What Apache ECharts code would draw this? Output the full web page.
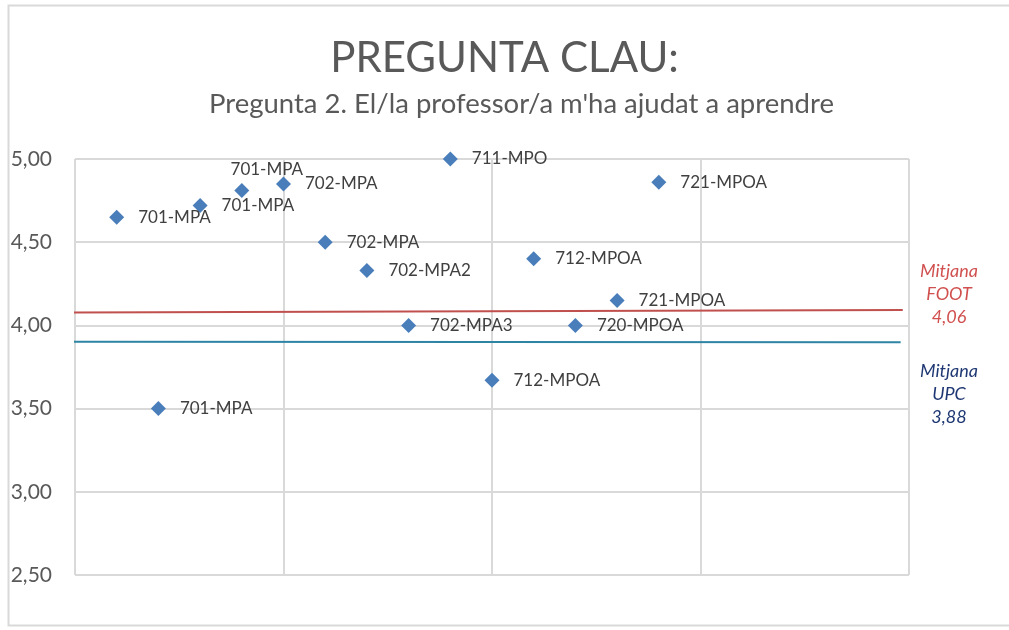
<!DOCTYPE html>
<html>
<head>
<meta charset="utf-8">
<script src="https://cdn.jsdelivr.net/npm/echarts@6/dist/echarts.min.js"></script>
<style>
  html, body { margin: 0; padding: 0; background: #fff; }
  #chart { width: 1009px; height: 630px; }
</style>
</head>
<body>
<div id="chart"></div>
<script>
  // groups (point labels), their x slot and score
  const groups = ['701-MPA', '701-MPA', '701-MPA', '701-MPA', '702-MPA', '702-MPA', '702-MPA2',
    '702-MPA3', '711-MPO', '712-MPOA', '712-MPOA', '720-MPOA', '721-MPOA', '721-MPOA'];
  const slots = [1, 2, 3, 4, 5, 6, 7, 8, 9, 10, 11, 12, 13, 14];
  const scores = [4.65, 3.50, 4.72, 4.81, 4.85, 4.50, 4.33, 4.00, 5.00, 3.67, 4.40, 4.00, 4.15, 4.86];

  // mean lines (drawn slightly tilted in the original)
  const footLine = [[-0.2, 4.077], [19.85, 4.093]];
  const upcLine = [[-0.17, 3.902], [19.8, 3.898]];
  const footMean = 4.06;
  const upcMean = 3.88;

  const yTicks = [2.5, 3.0, 3.5, 4.0, 4.5, 5.0];

  const fmt = v => v.toFixed(2).replace('.', ',');
  const font = 'Lato, "Open Sans", sans-serif';

  const points = slots.map((x, i) => {
    const item = { name: groups[i], value: [x, scores[i]] };
    if (i === 3) {
      // this label sits above the marker
      item.label = { position: 'top', offset: [25, 9] };
    }
    return item;
  });

  const chart = echarts.init(document.getElementById('chart'));
  chart.setOption({
    animation: false,
    backgroundColor: '#fff',
    title: [
      {
        text: 'PREGUNTA CLAU:',
        left: 'center', top: 32,
        textStyle: { fontFamily: font, fontSize: 42, fontWeight: 'normal', color: '#595959' }
      },
      {
        text: "Pregunta 2. El/la professor/a m'ha ajudat a aprendre",
        left: 204, top: 85,
        textStyle: { fontFamily: font, fontSize: 27.5, fontWeight: 'normal', color: '#595959' }
      }
    ],
    grid: { left: 75, right: 100, top: 159, bottom: 55 },
    xAxis: {
      type: 'value', min: 0, max: 20, interval: 5,
      axisLine: { show: false }, axisTick: { show: false }, axisLabel: { show: false },
      splitLine: { show: true, lineStyle: { color: '#D9D9D9', width: 2 } }
    },
    yAxis: {
      type: 'value', min: yTicks[0], max: yTicks[yTicks.length - 1], interval: 0.5,
      axisLine: { show: false }, axisTick: { show: false },
      axisLabel: { formatter: fmt, margin: 23, fontFamily: font, fontSize: 21, color: '#595959' },
      splitLine: { show: true, lineStyle: { color: '#D9D9D9', width: 2 } }
    },
    series: [
      {
        name: 'FOOT', type: 'line', data: footLine, symbol: 'none', clip: false, silent: true,
        lineStyle: { color: '#C0504D', width: 2 }, z: 1
      },
      {
        name: 'UPC', type: 'line', data: upcLine, symbol: 'none', clip: false, silent: true,
        lineStyle: { color: '#2E84A4', width: 2 }, z: 1
      },
      {
        name: 'grups', type: 'scatter', data: points,
        symbol: 'diamond', symbolSize: 15,
        itemStyle: { color: '#4A7EBB', opacity: 1 },
        label: {
          show: true, position: 'right', distance: 14,
          formatter: p => p.name,
          fontFamily: font, fontSize: 17, color: '#404040'
        },
        z: 3
      }
    ],
    graphic: [
      {
        type: 'rect', left: 6, top: 3, silent: true,
        shape: { width: 1002, height: 620 },
        style: { fill: 'none', stroke: '#D9D9D9', lineWidth: 2 }
      },
      {
        type: 'text', x: 949, y: 260,
        style: {
          text: 'Mitjana\nFOOT\n' + fmt(footMean), align: 'center',
          fontFamily: font, fontSize: 18, fontStyle: 'italic', lineHeight: 23, fill: '#D0504F'
        }
      },
      {
        type: 'text', x: 949, y: 360,
        style: {
          text: 'Mitjana\nUPC\n' + fmt(upcMean), align: 'center',
          fontFamily: font, fontSize: 18, fontStyle: 'italic', lineHeight: 23, fill: '#1F3873'
        }
      }
    ]
  });
</script>
</body>
</html>
